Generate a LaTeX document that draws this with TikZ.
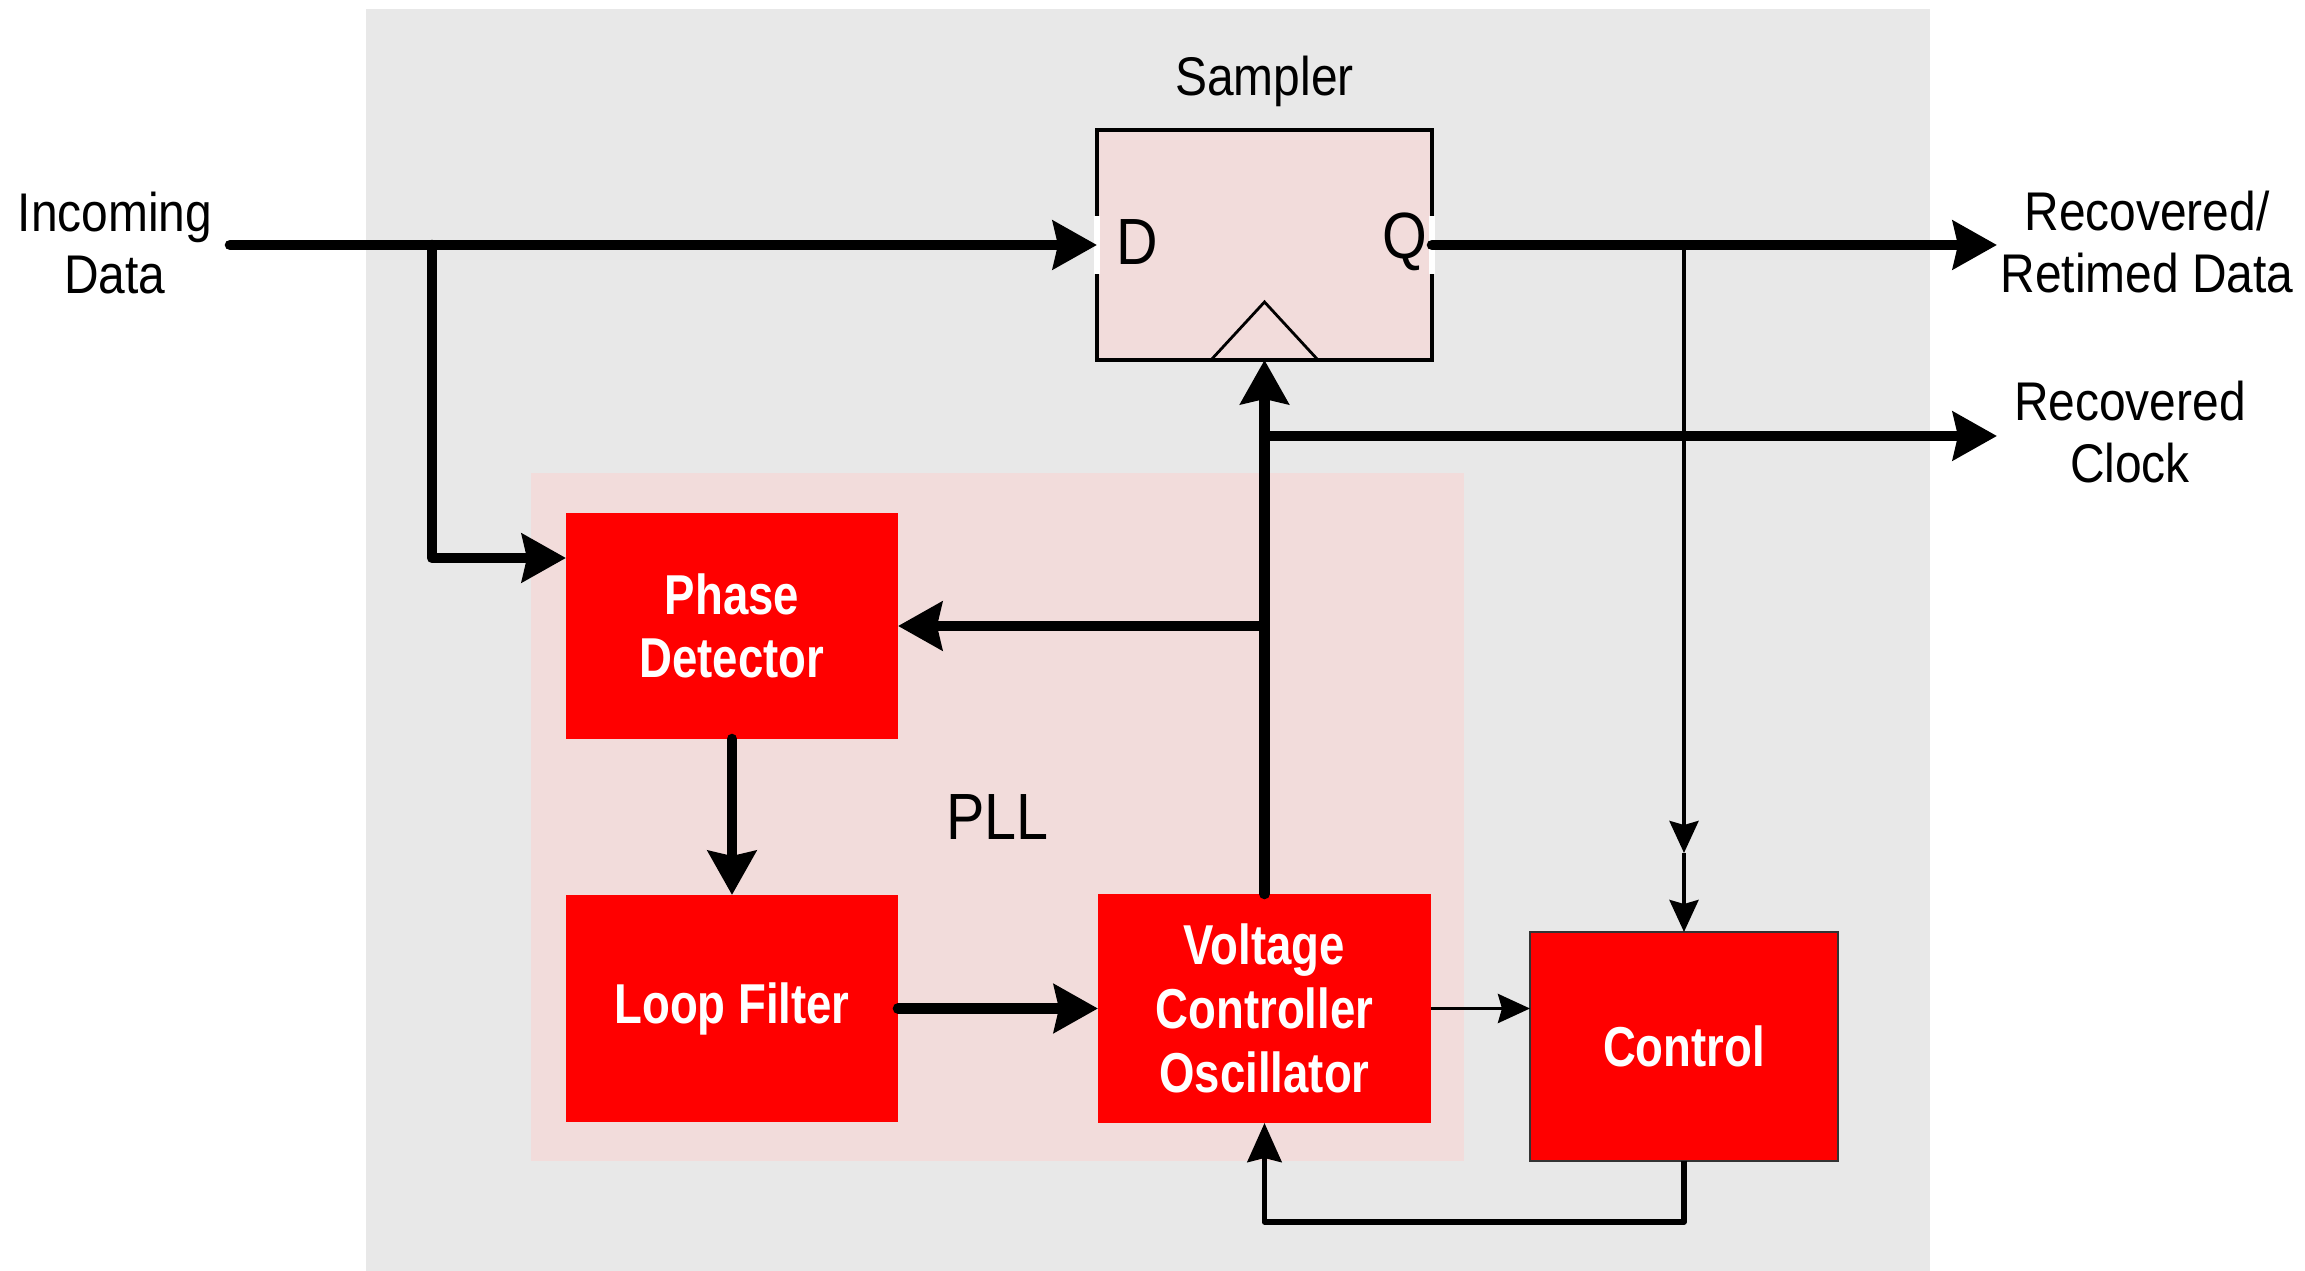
\documentclass[tikz,border=0pt]{standalone}
\usepackage{fontspec}
\setmainfont{Liberation Sans}[FakeStretch=0.88]
\newfontfamily\blkfont{Liberation Sans}[FakeStretch=0.81]
\usetikzlibrary{arrows.meta}

\definecolor{cdrBackColor}{RGB}{232,232,232}
\definecolor{cdrPllColor}{RGB}{242,220,219}
\definecolor{cdrBlockColor}{RGB}{255,0,0}

\begin{document}
\begin{tikzpicture}
            \tikzset{blk/.style={fill=cdrBlockColor, text=white, inner sep=0pt, outer sep=0pt, align=center, font=\blkfont\bfseries\fontsize{16}{18.1}\selectfont},
                lbl/.style={align=center, inner sep=0pt, font=\fontsize{15.5}{17.6}\selectfont},
                bus/.style={line width=3pt, line cap=round, line join=round, -{Stealth[length=4.4mm, width=4.8mm, inset=0.5mm]}},
                wire/.style={line width=1.1pt, -{Stealth[length=3.2mm, width=2.9mm, inset=0.4mm]}}}

            \useasboundingbox (0,0) rectangle (23.05,-12.71);
            \fill[cdrBackColor] (3.66,-0.09) rectangle (19.30,-12.71);

            \node[fill=cdrPllColor, minimum width=9.33cm, minimum height=6.88cm, font=\fontsize{18.6}{20}\selectfont] (pll) at (9.975,-8.17) {PLL};

            \node[draw, line width=1.4pt, fill=cdrPllColor, minimum width=3.35cm, minimum height=2.30cm, outer sep=0pt] (sampler) at (12.645,-2.45) {};
            \draw[white, line width=1.6pt] ([yshift=0.29cm]sampler.west) -- ([yshift=-0.29cm]sampler.west);
            \draw[white, line width=1.6pt] ([yshift=0.29cm]sampler.east) -- ([yshift=-0.29cm]sampler.east);
            \draw[line width=0.8pt] ([xshift=-0.535cm]sampler.south) -- ([yshift=0.58cm]sampler.south) -- ([xshift=0.535cm]sampler.south);
            \node[lbl] (samplerlbl) at (12.645,-0.81) {Sampler};
            \node[font=\fontsize{18.6}{20}\selectfont] (d) at (11.37,-2.42) {D};
            \node[font=\fontsize{18.6}{20}\selectfont] (q) at (14.05,-2.42) {Q};

            \node[blk, minimum width=3.32cm, minimum height=2.26cm] (pd) at (7.32,-6.26) {Phase\\Detector};
            \node[blk, minimum width=3.32cm, minimum height=2.27cm] (lf) at (7.32,-10.085) {Loop Filter};
            \node[blk, minimum width=3.33cm, minimum height=2.29cm] (vco) at (12.645,-10.085) {Voltage\\Controller\\Oscillator};
            \node[blk, draw=black!80, line width=0.6pt, minimum width=3.08cm, minimum height=2.29cm] (ctrl) at (16.84,-10.465) {Control};

            \node[lbl] (indata) at (1.15,-2.43) {Incoming\\Data};
            \node[lbl] (outdata) at (21.47,-2.42) {Recovered/\\Retimed Data};
            \node[lbl] (outclk) at (21.30,-4.32) {Recovered\\Clock};

            \coordinate (instart) at (2.30,-2.45);
            \coordinate (insplit) at (4.32,-2.45);
            \coordinate (pdin) at ([yshift=0.68cm]pd.west);
            \coordinate (dataout) at (19.97,-2.45);
            \coordinate (clkout) at (19.97,-4.36);
            \coordinate (clktap) at (12.645,-4.36);
            \coordinate (pdtap) at (12.645,-6.26);
            \coordinate (ctrltap) at (16.84,-2.45);
            \coordinate (ctrlmid) at (16.84,-8.53);
            \coordinate (fbturn) at (16.84,-12.22);

            \draw[bus] (instart) -- (sampler.west);
            \draw[bus] (insplit) |- (pdin);
            \draw[bus] (sampler.east) -- (dataout);
            \draw[bus] (vco.north) -- (sampler.south);
            \draw[bus] (clktap) -- (clkout);
            \draw[bus] (pdtap) -- (pd.east);
            \draw[bus] (pd.south) -- (lf.north);
            \draw[bus] (lf.east) -- (vco.west);

            \draw[wire] (ctrltap) -- (ctrlmid);
            \draw[wire] (ctrlmid) -- (ctrl.north);
            \draw[wire] (vco.east) -- (vco.east -| ctrl.west);
            \draw[line width=1.6pt, line join=round, -{Stealth[length=3.9mm, width=3.4mm, inset=0.4mm]}] (ctrl.south) -- (fbturn) -| (vco.south);
        \end{tikzpicture}
\end{document}
